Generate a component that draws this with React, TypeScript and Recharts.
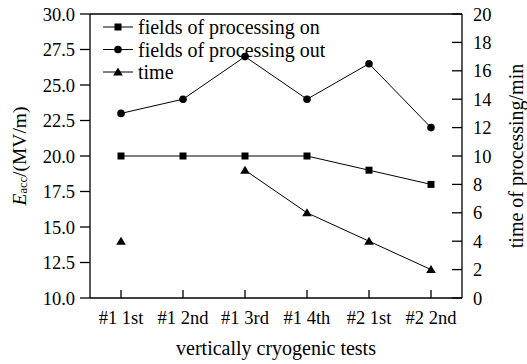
import React from 'react';
import { LineChart, Line, XAxis, YAxis, ReferenceLine } from 'recharts';

// Cryogenic test runs
const tests = ['#1 1st', '#1 2nd', '#1 3rd', '#1 4th', '#2 1st', '#2 2nd'];
// Accelerating field (MV/m)
const fieldsOn = [20, 20, 20, 20, 19, 18];
const fieldsOut = [23, 24, 27, 24, 26.5, 22];
// Processing time (min); no processing recorded for the second run
const processingTime: (number | null)[] = [4, null, 9, 6, 4, 2];

const fieldTicks = [10, 12.5, 15, 17.5, 20, 22.5, 25, 27.5, 30];
const timeTicks = [0, 2, 4, 6, 8, 10, 12, 14, 16, 18, 20];

const data = tests.map((t, i) => ({
  test: t,
  on: fieldsOn[i],
  out: fieldsOut[i],
  time: processingTime[i],
}));

const FONT = 'Liberation Serif';
const INK = '#000';
const TICK_FS = 18.5;
const TITLE_FS = 20;

type MarkerKind = 'square' | 'circle' | 'triangle';

function marker(kind: MarkerKind, cx: number, cy: number, key?: string) {
  if (kind === 'square') {
    return <rect key={key} x={cx - 3.5} y={cy - 3.5} width={7} height={7} fill={INK} />;
  }
  if (kind === 'circle') {
    return <circle key={key} cx={cx} cy={cy} r={3.8} fill={INK} />;
  }
  return (
    <polygon
      key={key}
      points={`${cx},${cy - 4.5} ${cx - 4.8},${cy + 3.5} ${cx + 4.8},${cy + 3.5}`}
      fill={INK}
    />
  );
}

const makeDot = (kind: MarkerKind) => (props: any) => {
  const { cx, cy, index, value } = props;
  if (cx == null || cy == null || value == null || Number.isNaN(cy)) {
    return <g key={`d-${kind}-${index}`} />;
  }
  return <g key={`d-${kind}-${index}`}>{marker(kind, cx, cy)}</g>;
};

const legendItems: { label: string; kind: MarkerKind }[] = [
  { label: 'fields of processing on', kind: 'square' },
  { label: 'fields of processing out', kind: 'circle' },
  { label: 'time', kind: 'triangle' },
];

const LeftLabel = (props: any) => {
  const vb = props.viewBox || { x: 0, y: 14, width: 90, height: 284 };
  const x = vb.x + 19;
  const y = vb.y + vb.height / 2;
  return (
    <text
      x={x}
      y={y}
      transform={`rotate(-90, ${x}, ${y})`}
      textAnchor="middle"
      dominantBaseline="central"
      style={{ fontFamily: FONT }}
      fontSize={19.5}
      fill={INK}
    >
      <tspan fontStyle="italic">E</tspan>
      <tspan fontSize={12.5} dy={4}>acc</tspan>
      <tspan dy={-4}>/(MV/m)</tspan>
    </text>
  );
};

const RightLabel = (props: any) => {
  const vb = props.viewBox || { x: 462, y: 14, width: 65, height: 284 };
  const x = vb.x + 54;
  const y = vb.y + vb.height / 2;
  return (
    <text
      x={x}
      y={y}
      transform={`rotate(-90, ${x}, ${y})`}
      textAnchor="middle"
      dominantBaseline="central"
      style={{ fontFamily: FONT }}
      fontSize={TITLE_FS}
      fill={INK}
    >
      time of processing/min
    </text>
  );
};

const BottomLabel = (props: any) => {
  const vb = props.viewBox || { x: 90, y: 298, width: 372, height: 66 };
  const x = vb.x + vb.width / 2;
  const y = vb.y + 50;
  return (
    <text x={x} y={y} textAnchor="middle" dominantBaseline="central" style={{ fontFamily: FONT }} fontSize={TITLE_FS} fill={INK}>
      vertically cryogenic tests
    </text>
  );
};

const tickStyle = { fontFamily: FONT, fontSize: TICK_FS, fill: INK };
const axisLineStyle = { stroke: INK, strokeWidth: 1.3 };

export default function App() {
  return (
    <div style={{ position: 'absolute', left: 0, top: 0, width: 527, height: 364, background: '#fff', fontFamily: FONT }}>
      <LineChart
        width={527}
        height={364}
        data={data}
        margin={{ top: 14, right: 0, bottom: 0, left: 0 }}
        style={{ fontFamily: FONT }}
      >
        <XAxis
          dataKey="test"
          xAxisId="x"
          height={66}
          padding={{ left: 31, right: 31 }}
          tick={tickStyle}
          tickSize={-8}
          tickMargin={21}
          axisLine={axisLineStyle}
          tickLine={{ stroke: INK, strokeWidth: 1.3 }}
          interval={0}
          label={<BottomLabel />}
        />
        <YAxis
          yAxisId="field"
          orientation="left"
          width={90}
          domain={[10, 30]}
          ticks={fieldTicks}
          tickFormatter={(v: number) => v.toFixed(1)}
          tick={tickStyle}
          tickSize={10}
          tickMargin={5}
          axisLine={axisLineStyle}
          tickLine={{ stroke: INK, strokeWidth: 1.3 }}
          interval={0}
          label={<LeftLabel />}
        />
        <YAxis
          yAxisId="time"
          orientation="right"
          width={65}
          domain={[0, 20]}
          ticks={timeTicks}
          tick={tickStyle}
          tickSize={-10}
          tickMargin={21}
          axisLine={axisLineStyle}
          tickLine={{ stroke: INK, strokeWidth: 1.3 }}
          interval={0}
          label={<RightLabel />}
        />
        <ReferenceLine y={30} xAxisId="x" yAxisId="field" stroke={INK} strokeWidth={1.3} ifOverflow="visible" />
        <Line
          xAxisId="x"
          yAxisId="field"
          dataKey="on"
          stroke={INK}
          strokeWidth={1}
          dot={makeDot('square')}
          isAnimationActive={false}
        />
        <Line
          xAxisId="x"
          yAxisId="field"
          dataKey="out"
          stroke={INK}
          strokeWidth={1}
          dot={makeDot('circle')}
          isAnimationActive={false}
        />
        <Line
          xAxisId="x"
          yAxisId="time"
          dataKey="time"
          stroke={INK}
          strokeWidth={1}
          connectNulls={false}
          dot={makeDot('triangle')}
          isAnimationActive={false}
        />
      </LineChart>
      <svg
        width={260}
        height={70}
        style={{ position: 'absolute', left: 98, top: 15, overflow: 'visible' }}
      >
        {legendItems.map((item, i) => {
          const cy = 12 + i * 22.5;
          return (
            <g key={item.label}>
              <line x1={5} x2={35} y1={cy} y2={cy} stroke={INK} strokeWidth={1} />
              {marker(item.kind, 20, cy)}
              <text x={40} y={cy} dominantBaseline="central" style={{ fontFamily: FONT }} fontSize={TITLE_FS} fill={INK}>
                {item.label}
              </text>
            </g>
          );
        })}
      </svg>
    </div>
  );
}
